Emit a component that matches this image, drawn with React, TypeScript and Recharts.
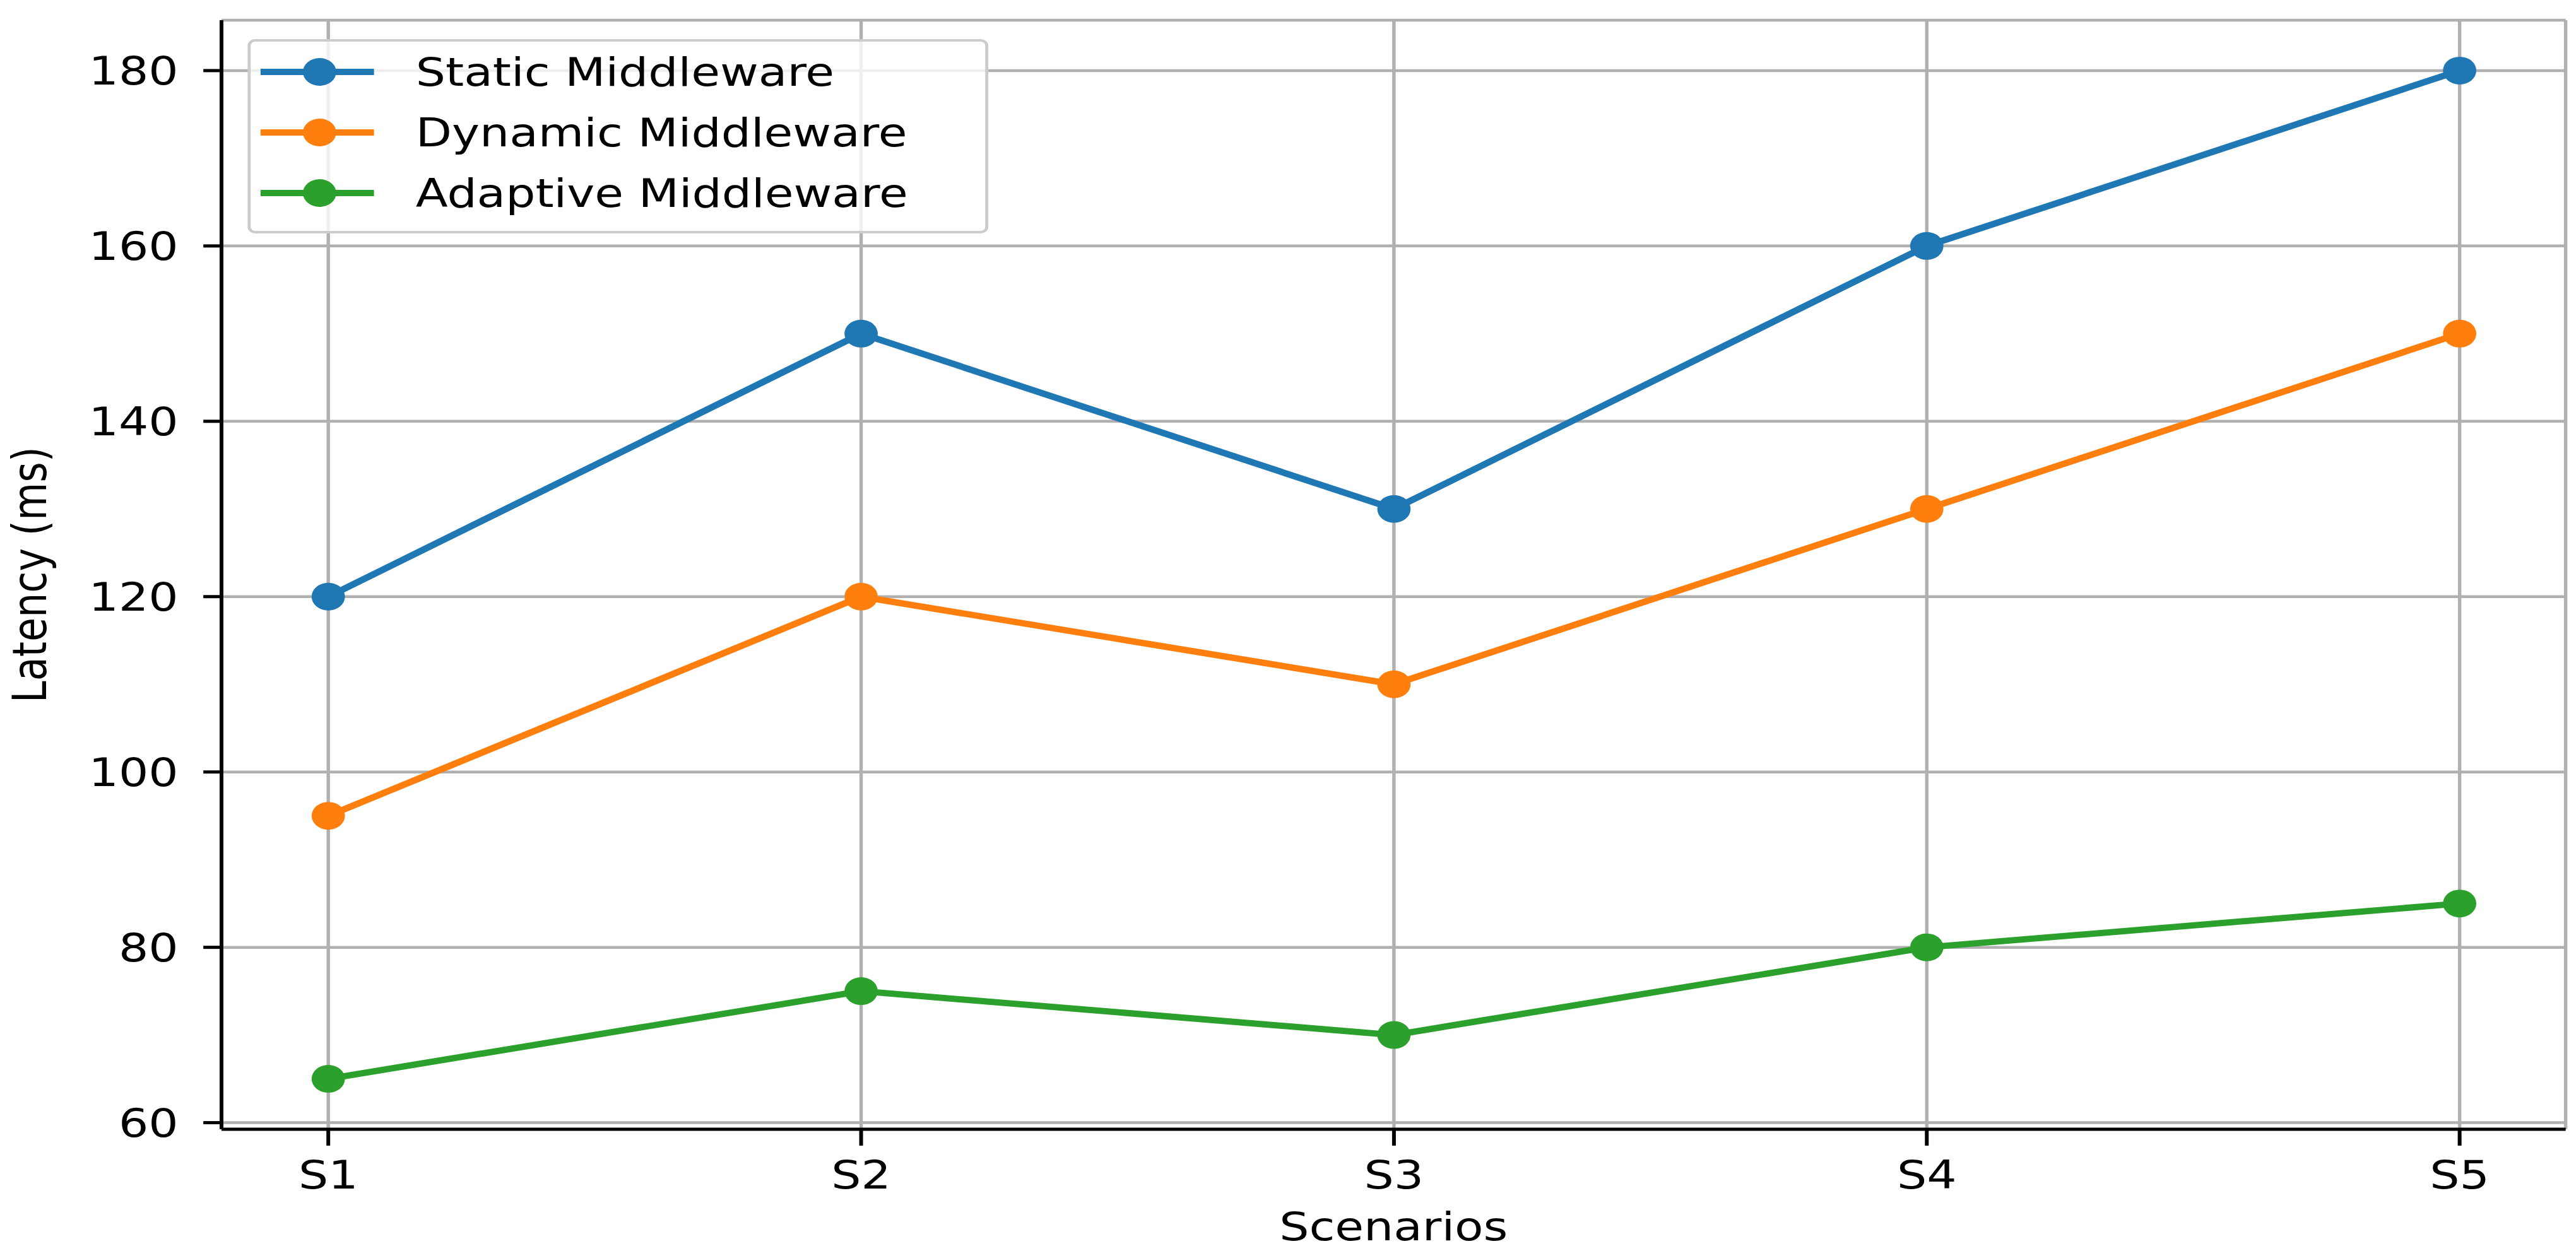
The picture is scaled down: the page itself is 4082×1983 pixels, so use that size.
import {
  LineChart,
  Line,
  XAxis,
  YAxis,
  CartesianGrid,
  Legend,
} from 'recharts'

const scenarios = ['S1', 'S2', 'S3', 'S4', 'S5']
const staticLatency = [120, 150, 130, 160, 180]
const dynamicLatency = [95, 120, 110, 130, 150]
const adaptiveLatency = [65, 75, 70, 80, 85]
const yTicks = [60, 80, 100, 120, 140, 160, 180]

const seriesList = [
  { key: 'static', name: 'Static Middleware', color: '#1f77b4' },
  { key: 'dynamic', name: 'Dynamic Middleware', color: '#ff7f0e' },
  { key: 'adaptive', name: 'Adaptive Middleware', color: '#2ca02c' },
]

const data = scenarios.map((s, i) => ({
  scenario: s,
  static: staticLatency[i],
  dynamic: dynamicLatency[i],
  adaptive: adaptiveLatency[i],
}))

const FONT = '"DejaVu Sans", sans-serif'
const FS = 62
// the reference image is stretched horizontally, so draw narrower and scale
const STRETCH = 1.2
const W = 3402
const H = 1983

function LegendBox() {
  return (
    <div
      style={{
        boxSizing: 'border-box',
        width: 978,
        height: 308,
        border: '4px solid #cccccc',
        borderRadius: 10,
        background: 'rgba(255,255,255,0.8)',
        fontFamily: FONT,
        fontSize: FS,
        color: '#000',
      }}
    >
      {seriesList.map((s) => (
        <div key={s.key} style={{ display: 'flex', alignItems: 'center', height: 96 }}>
          <svg width={150} height={50} style={{ marginLeft: 13 }}>
            <line x1={0} y1={25} x2={150} y2={25} stroke={s.color} strokeWidth={10} />
            <circle cx={78} cy={25} r={22} fill={s.color} />
          </svg>
          <span style={{ marginLeft: 55, whiteSpace: 'nowrap' }}>{s.name}</span>
        </div>
      ))}
    </div>
  )
}

function YLabel(props: any) {
  const vb = props.viewBox || { y: 0, height: 0 }
  const cy = vb.y + vb.height / 2
  return (
    <text
      x={39}
      y={cy}
      transform={`rotate(-90, 39, ${cy})`}
      textAnchor="middle"
      dominantBaseline="central"
      fontFamily={FONT}
      fontSize={FS}
      fill="#000"
    >
      Latency (ms)
    </text>
  )
}

function XLabel(props: any) {
  const vb = props.viewBox || { x: 0, width: 0 }
  return (
    <text
      x={vb.x + vb.width / 2}
      y={1944}
      textAnchor="middle"
      dominantBaseline="central"
      fontFamily={FONT}
      fontSize={FS}
      fill="#000"
    >
      Scenarios
    </text>
  )
}

export default function App() {
  const tickStyle = { fontFamily: FONT, fontSize: FS, fill: '#000' }
  return (
    <div
      style={{
        position: 'absolute',
        left: 0,
        top: 0,
        width: W,
        height: H,
        background: '#fff',
        transform: `scaleX(${STRETCH})`,
        transformOrigin: '0 0',
      }}
    >
      <LineChart width={W} height={H} data={data} margin={{ top: 32, right: 14, left: 0, bottom: 0 }}>
        <CartesianGrid stroke="#b0b0b0" strokeWidth={4.5} />
        <XAxis
          dataKey="scenario"
          height={193}
          padding={{ left: 141, right: 140 }}
          tick={tickStyle}
          tickSize={26}
          tickMargin={24}
          tickLine={{ stroke: '#000', strokeWidth: 5 }}
          axisLine={{ stroke: '#000', strokeWidth: 5 }}
          interval={0}
          label={<XLabel />}
        />
        <XAxis
          xAxisId="top"
          orientation="top"
          dataKey="scenario"
          height={0}
          tick={false}
          tickLine={false}
          padding={{ left: 141, right: 140 }}
          axisLine={{ stroke: '#000', strokeWidth: 5 }}
        />
        <YAxis
          width={292.5}
          domain={[59.25, 185.75]}
          ticks={yTicks}
          allowDataOverflow
          tick={tickStyle}
          tickSize={24}
          tickMargin={33}
          tickLine={{ stroke: '#000', strokeWidth: 5 }}
          axisLine={{ stroke: '#000', strokeWidth: 5 }}
          label={<YLabel />}
        />
        <YAxis
          yAxisId="right"
          orientation="right"
          width={0}
          domain={[59.25, 185.75]}
          tick={false}
          tickLine={false}
          axisLine={{ stroke: '#000', strokeWidth: 5 }}
        />
        <Legend
          layout="horizontal"
          verticalAlign="middle"
          align="center"
          content={<LegendBox />}
          wrapperStyle={{ position: 'absolute', left: 327, top: 62, width: 978, height: 308 }}
        />
        {seriesList.map((s) => (
          <Line
            key={s.key}
            type="linear"
            dataKey={s.key}
            name={s.name}
            stroke={s.color}
            strokeWidth={10}
            dot={{ r: 22, fill: s.color, stroke: 'none' }}
            activeDot={false}
            isAnimationActive={false}
          />
        ))}
      </LineChart>
    </div>
  )
}
